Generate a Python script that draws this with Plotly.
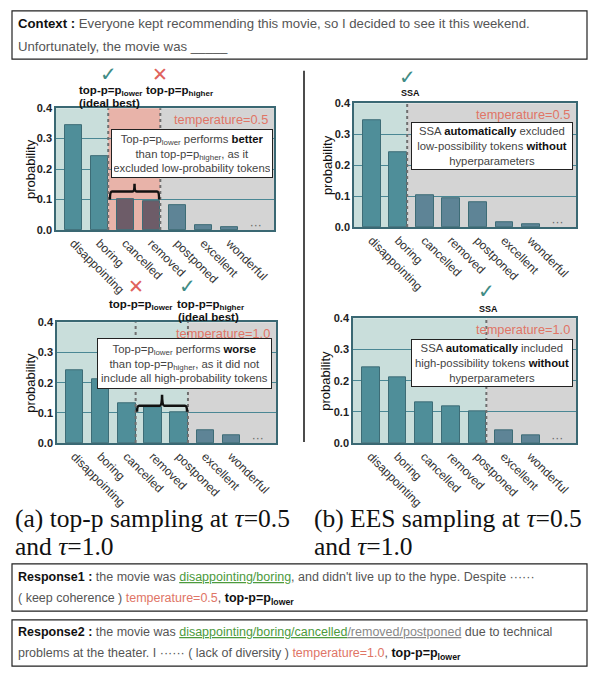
import plotly.graph_objects as go

W, H = 592, 675

# ---- data -------------------------------------------------------------
tokens = ["disappointing", "boring", "cancelled", "removed", "postponed", "excellent", "wonderful"]
probs_t05 = [0.345, 0.242, 0.102, 0.093, 0.080, 0.016, 0.009]
probs_t10 = [0.242, 0.210, 0.131, 0.119, 0.103, 0.041, 0.025]
y_ticks = [0.0, 0.1, 0.2, 0.3, 0.4]
temperature_labels = ["temperature=0.5", "temperature=1.0"]

# ---- style ------------------------------------------------------------
SANS = "Liberation Sans, Arial, sans-serif"
SERIF = "Liberation Serif, Times New Roman, serif"
TEAL_BG, GRAY_BG, PINK_BG = "#c9dedb", "#d4d4d4", "#e8b3a9"
TEAL_BAR, SLATE_BAR, PLUM_BAR = "#4f8e99", "#5e8496", "#6d5c68"
BAR_EDGE = "#3d6c76"
FRAME = "#3a6873"
SALMON = "#e07566"
CHECK = "#3f8c85"
CROSS = "#e0625c"
BAR_W = 0.67
X_RANGE = [-0.67, 7.70]


def px(x):
    return x / W


def py(y):
    return 1 - y / H


# subplot layout: pixel box, y-title x position, probabilities, region cut positions
panels = [
    dict(n=1, box=(56, 104, 274, 228), title_x=30, probs=probs_t05, teal_to=1, pink_to=3, dotted=[1, 3], temp=0),
    dict(n=2, box=(354, 99, 576, 225), title_x=327, probs=probs_t05, teal_to=1, pink_to=None, dotted=[1], temp=0),
    dict(n=3, box=(57, 322, 276, 445), title_x=31, probs=probs_t10, teal_to=4, pink_to=None, dotted=[2, 4], temp=1),
    dict(n=4, box=(353, 318, 576, 445), title_x=326, probs=probs_t10, teal_to=4, pink_to=None, dotted=[4], temp=1),
]

fig = go.Figure()
shapes = []
annotations = []


def edge(k):
    return k + BAR_W / 2


for p in panels:
    n = p["n"]
    suf = "" if n == 1 else str(n)
    xa, ya = f"x{suf}", f"y{suf}"
    x0, y0, x1, y1 = p["box"]
    teal_end = edge(p["teal_to"])
    pink_end = edge(p["pink_to"]) if p["pink_to"] is not None else None

    colors = []
    for i in range(len(tokens)):
        if i <= p["teal_to"]:
            colors.append(TEAL_BAR)
        elif p["pink_to"] is not None and i <= p["pink_to"]:
            colors.append(PLUM_BAR)
        else:
            colors.append(SLATE_BAR)

    fig.add_trace(go.Bar(
        x=list(range(len(tokens))), y=p["probs"], width=BAR_W,
        marker=dict(color=colors, line=dict(color=BAR_EDGE, width=1)),
        xaxis=xa, yaxis=ya, showlegend=False, hoverinfo="skip",
    ))
    # trailing ellipsis token
    fig.add_trace(go.Scatter(
        x=[len(tokens)], y=[0.012], mode="text", text=["···"],
        textfont=dict(family=SANS, size=12, color="#666"),
        xaxis=xa, yaxis=ya, showlegend=False, hoverinfo="skip",
    ))

    # shaded regions
    regions = [(X_RANGE[0], teal_end, TEAL_BG)]
    if pink_end is not None:
        regions += [(teal_end, pink_end, PINK_BG), (pink_end, X_RANGE[1], GRAY_BG)]
    else:
        regions += [(teal_end, X_RANGE[1], GRAY_BG)]
    for a, b, c in regions:
        shapes.append(dict(type="rect", xref=xa, yref=f"{ya} domain", x0=a, x1=b, y0=0, y1=1,
                           fillcolor=c, line=dict(width=0), layer="below"))
    for k in p["dotted"]:
        shapes.append(dict(type="line", xref=xa, yref=f"{ya} domain", x0=edge(k), x1=edge(k), y0=0, y1=1,
                           line=dict(color="#6f6f6f", width=2, dash="dot"), layer="above"))

    fig.layout[f"xaxis{suf}"] = dict(
        domain=[px(x0), px(x1)], anchor=ya, range=X_RANGE,
        tickmode="array", tickvals=list(range(len(tokens))), ticktext=tokens,
        tickangle=45, tickfont=dict(family=SANS, size=12, color="#333"),
        showgrid=False, zeroline=False, showline=True, mirror=True,
        linecolor=FRAME, linewidth=1.5, ticks="", fixedrange=True,
    )
    fig.layout[f"yaxis{suf}"] = dict(
        domain=[py(y1), py(y0)], anchor=xa, range=[0, 0.4],
        tickmode="array", tickvals=y_ticks, ticktext=[f"{v:.1f}" for v in y_ticks],
        tickfont=dict(family=SANS, size=11, color="#222", weight="bold"),
        showgrid=True, gridcolor="#4a8794", gridwidth=1, zeroline=False,
        showline=True, mirror=True, linecolor=FRAME, linewidth=1.5, ticks="", fixedrange=True,
    )

    # axis title
    annotations.append(dict(
        xref="paper", yref="paper", x=px(p["title_x"]), y=py((y0 + y1) / 2),
        xanchor="center", yanchor="middle", textangle=-90, text="probability", showarrow=False,
        font=dict(family=SANS, size=13, color="#111"),
    ))

    annotations.append(dict(
        xref=f"{xa} domain", yref=f"{ya} domain", x=0.98, y=0.985, xanchor="right", yanchor="top",
        text=temperature_labels[p["temp"]], showarrow=False,
        font=dict(family=SANS, size=12.8, color=SALMON),
    ))


# curly brace over the cut-off tokens
def brace(xa, ya, xl, xr, y_end, y_bar, y_tip):
    xm = (xl + xr) / 2
    rx = 0.08
    path = (f"M {xl},{y_end} Q {xl},{y_bar} {xl + rx},{y_bar} L {xm - rx},{y_bar} "
            f"Q {xm},{y_bar} {xm},{y_tip} Q {xm},{y_bar} {xm + rx},{y_bar} "
            f"L {xr - rx},{y_bar} Q {xr},{y_bar} {xr},{y_end}")
    shapes.append(dict(type="path", xref=xa, yref=ya, path=path,
                       line=dict(color="#111", width=2.5), layer="above"))


brace("x", "y", 1.40, 3.29, 0.100, 0.126, 0.152)
brace("x3", "y3", 2.39, 4.30, 0.104, 0.124, 0.160)

# explanation boxes
box_font = dict(family=SANS, size=11.3, color="#444")
box_texts = [
    ((192, 150), 156, 43,
     "Top-p=p<sub>lower</sub> performs <b><span style='color:#111'>better</span></b><br>"
     "than top-p=p<sub>higher</sub>, as it<br>excluded low-probability tokens"),
    ((492, 143), 156, 42,
     "SSA <b><span style='color:#111'>automatically</span></b> excluded<br>"
     "low-possibility tokens <b><span style='color:#111'>without</span></b><br>hyperparameters"),
    ((184.5, 364), 169, 45,
     "Top-p=p<sub>lower</sub> performs <b><span style='color:#111'>worse</span></b><br>"
     "than top-p=p<sub>higher</sub>, as it did not<br>include all high-probability tokens"),
    ((492, 363.5), 156, 42,
     "SSA <b><span style='color:#111'>automatically</span></b> included<br>"
     "high-possibility tokens <b><span style='color:#111'>without</span></b><br>hyperparameters"),
]
for (cx, cy), w, h, t in box_texts:
    annotations.append(dict(
        xref="paper", yref="paper", x=px(cx), y=py(cy), xanchor="center", yanchor="middle",
        text=t, showarrow=False, align="center", width=w, height=h,
        bgcolor="white", bordercolor="#222", borderwidth=1, borderpad=2, font=box_font,
    ))


def mark(xa, xval, ypix, good):
    annotations.append(dict(
        xref=xa, yref="paper", x=xval, y=py(ypix), xanchor="center", yanchor="middle",
        text="✓" if good else "✕", showarrow=False,
        font=dict(family="DejaVu Sans", size=20 if good else 19, color=CHECK if good else CROSS),
    ))


def label(xpix, ypix, text, anchor="left", size=11.5):
    annotations.append(dict(
        xref="paper", yref="paper", x=px(xpix), y=py(ypix), xanchor=anchor, yanchor="middle",
        text=text, showarrow=False, font=dict(family=SANS, size=size, color="#111", weight="bold"),
    ))


# top-p markers (a)
mark("x", edge(1), 69, True)
mark("x", edge(3), 69, False)
label(77, 87, "top-p=p<sub>lower</sub>")
label(77, 99, "(ideal best)")
label(144, 87, "top-p=p<sub>higher</sub>")

mark("x3", edge(2), 285, False)
mark("x3", edge(4), 285, True)
label(107, 304, "top-p=p<sub>lower</sub>")
label(175, 304, "top-p=p<sub>higher</sub>")
label(176, 317, "(ideal best)")

# SSA markers (b)
mark("x2", edge(1), 72, True)
label(410, 89, "SSA", anchor="center", size=9)
mark("x4", edge(4), 290, True)
label(488, 308, "SSA", anchor="center", size=9)

# divider between (a) and (b)
shapes.append(dict(type="line", xref="paper", yref="paper", x0=px(304), x1=px(304), y0=py(66), y1=py(444),
                   line=dict(color="#111", width=1.5)))

# captions
cap_font = dict(family=SERIF, size=25.5, color="#111")
for xpix, lines in [(13, ["(a) top-p sampling at <i>τ</i>=0.5", "and <i>τ</i>=1.0"]),
                    (312, ["(b) EES sampling at <i>τ</i>=0.5", "and <i>τ</i>=1.0"])]:
    for j, line in enumerate(lines):
        annotations.append(dict(xref="paper", yref="paper", x=px(xpix), y=py(522 + 28 * j),
                                xanchor="left", yanchor="middle", text=line, showarrow=False, font=cap_font))

# text boxes: context and responses
GREEN = "#4c9a3c"


def text_box(top, bottom, lines, size):
    shapes.append(dict(type="rect", xref="paper", yref="paper", x0=px(12), x1=px(587), y0=py(bottom), y1=py(top),
                       line=dict(color="#222", width=1.2), fillcolor="rgba(0,0,0,0)"))
    step = (bottom - top) / (len(lines) + 0.15)
    for j, line in enumerate(lines):
        annotations.append(dict(xref="paper", yref="paper", x=px(16), y=py(top + step * (j + 0.58)),
                                xanchor="left", yanchor="middle", text=line, showarrow=False,
                                font=dict(family=SANS, size=size, color="#555")))


B = "<b><span style='color:#111'>{}</span></b>"
text_box(5, 54, [
    B.format("Context :") + " Everyone kept recommending this movie, so I decided to see it this weekend.",
    "Unfortunately, the movie was _____",
], 13.2)
text_box(568, 616, [
    B.format("Response1 :") + " the movie was <span style='color:%s'><u>disappointing/boring</u></span>"
    ", and didn't live up to the hype. Despite ······" % GREEN,
    "( keep coherence ) <span style='color:%s'>temperature=0.5</span>, " % SALMON
    + B.format("top-p=p<sub>lower</sub>"),
], 12.5)
text_box(625, 672, [
    B.format("Response2 :") + " the movie was <span style='color:%s'><u>disappointing/boring/cancelled</u></span>"
    "<span style='color:#888'><u>/removed/postponed</u></span> due to technical" % GREEN,
    "problems at the theater. I ······ ( lack of diversity ) <span style='color:%s'>temperature=1.0</span>, " % SALMON
    + B.format("top-p=p<sub>lower</sub>"),
], 12.5)

fig.update_layout(
    width=W, height=H, margin=dict(l=0, r=0, t=0, b=0),
    paper_bgcolor="white", plot_bgcolor="rgba(0,0,0,0)",
    bargap=0, shapes=shapes, annotations=annotations, showlegend=False,
)

fig.write_html("out.html", config={"displayModeBar": False})
